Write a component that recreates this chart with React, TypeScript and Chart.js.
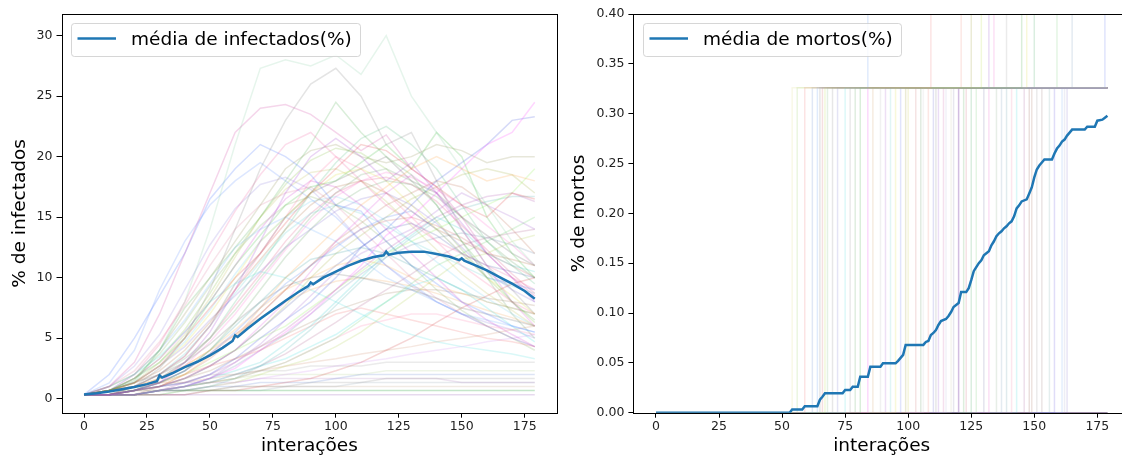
import React, { useEffect, useRef } from 'react';
import { Chart, registerables } from 'chart.js';

Chart.register(...registerables);

// ---------------- data ----------------
const lastIteration = 179;
const xTickValues = [0, 25, 50, 75, 100, 125, 150, 175];
const infectedYTicks = [0, 5, 10, 15, 20, 25, 30];
const deathYTicks = [0, 0.05, 0.1, 0.15, 0.2, 0.25, 0.3, 0.35, 0.4];

const infectedLegend = 'média de infectados(%)';
const deathLegend = 'média de mortos(%)';
const xTitle = 'interações';
const infectedYTitle = '% de infectados';
const deathYTitle = '% de mortos';

// iterations at which the individual simulation runs were read
const runIterations = [0, 10, 20, 30, 40, 50, 60, 70, 80, 90, 100, 110, 120, 130, 140, 150, 160, 170, 179];

const infectedRuns: number[][] = [
  [0.33, 0.67, 1.3, 4, 8, 14, 21, 27.3, 28, 27.5, 28.4, 26.8, 30, 25, 22, 19, 16, 13, 11],
  [0.33, 1, 3, 7, 12, 17, 22, 24, 24.3, 23.5, 22, 20.5, 21.8, 19, 17.5, 15, 12, 10, 8.5],
  [0.33, 0.33, 1, 2.5, 5, 9, 14, 19, 23, 26, 27.3, 25, 21, 22, 18, 14, 11, 9, 7],
  [0.33, 2, 5, 8.5, 12, 16.5, 19, 21, 20, 18.5, 16, 15.5, 13, 11, 9.5, 8, 7, 6, 5.5],
  [0.33, 0.67, 1.5, 4, 7.5, 10, 12.5, 15, 18, 21, 24.5, 22, 20, 18.5, 16, 13, 10.5, 8, 6.5],
  [0.33, 0.33, 0.67, 1.3, 3, 5.5, 9, 13, 17, 20, 21.5, 20, 18, 19.5, 17, 14.5, 12, 10, 8],
  [0.33, 0.67, 1.3, 2.7, 5, 7.5, 10, 12, 14.5, 17, 19, 21, 20.5, 19, 17.5, 16, 15, 17, 16.5],
  [0.33, 0.33, 0.33, 0.67, 1, 1.7, 2.5, 4, 5.5, 7, 9, 11, 13.5, 15, 17, 19, 21, 22, 24.5],
  [0.33, 0.33, 0.67, 1, 1.3, 2, 3.3, 5, 6.5, 8, 10, 12.5, 14, 16, 18, 19.5, 21, 23, 23.3],
  [0.33, 0.33, 0.67, 1, 2, 3.5, 5, 7.5, 10, 12, 14, 16, 17.5, 19, 20, 19, 18, 18.5, 18],
  [0.33, 1, 2, 4, 7, 10, 13, 16, 19, 20.5, 21, 20, 19.5, 20, 21, 20.5, 19.5, 20, 20],
  [0.33, 0.33, 0.33, 0.67, 1, 1.67, 2.3, 3, 4.5, 6, 8, 10, 12, 13.5, 15, 14, 12, 11, 10.5],
  [0.33, 0.67, 1.3, 2.7, 4.5, 7, 10, 13, 15, 17, 18.5, 19, 18, 16, 14, 12, 10, 8.5, 7],
  [0.33, 0.67, 1.67, 3, 5, 8, 11, 13.5, 16, 17.5, 18, 19.5, 21, 19, 22, 20, 15, 12, 10],
  [0.33, 0.33, 1, 2, 3.5, 6, 9, 12, 15, 18, 20, 19, 17, 15, 13, 11, 9.5, 8, 7],
  [0.33, 0.33, 0.33, 0.67, 0.67, 0.67, 1, 1, 1, 1.33, 1.33, 1.33, 1.67, 1.67, 1.67, 1.67, 1.67, 1.67, 1.67],
  [0.33, 0.67, 0.67, 0.67, 0.67, 0.67, 0.67, 0.67, 0.67, 0.67, 0.67, 0.67, 0.67, 0.67, 0.67, 0.67, 0.67, 0.67, 0.67],
  [0.33, 0.33, 0.33, 0.33, 0.33, 0.33, 0.33, 0.33, 0.33, 0.33, 0.33, 0.33, 0.33, 0.33, 0.33, 0.33, 0.33, 0.33, 0.33],
  [0.33, 0.33, 0.67, 1, 1.33, 2, 2, 2.3, 2.3, 2.7, 2.7, 2.7, 3, 3, 3, 3, 3, 3, 3],
  [0.33, 0.67, 1, 1.3, 2, 2.7, 3.3, 4, 5, 6, 7, 7.5, 7, 6.5, 6, 5.5, 5, 4.7, 4.3],
  [0.33, 0.33, 0.67, 1.33, 2.3, 3.7, 5.5, 7.5, 9.5, 11, 12.5, 14, 15, 15.5, 14, 12, 10, 9.5, 9],
  [0.33, 0.33, 0.67, 1, 1.7, 2.7, 4, 6, 8, 10.5, 13, 15, 17, 18.5, 17, 14, 11, 8, 6],
  [0.33, 1, 2, 3.5, 5.5, 8, 9.5, 10.5, 10, 9, 8, 7, 6, 5.3, 4.7, 4.3, 4, 3.7, 3.3],
  [0.33, 0.33, 0.33, 0.67, 1, 1.33, 1.67, 2.3, 3, 4, 5, 6.5, 8, 9.5, 11, 12, 13, 14, 15],
  [0.33, 0.67, 1.3, 2.3, 4, 6.3, 9, 11.5, 14, 16, 17.5, 18, 17, 15.5, 14, 13, 12, 11.5, 11],
  [0.33, 0.33, 1, 2, 3.5, 6, 9.5, 12, 15, 17, 18, 19, 20, 18, 17, 15, 13.5, 12, 11],
  [0.33, 0.67, 2, 4, 6.5, 9.5, 12.5, 14, 15, 14, 13, 11.5, 10, 9, 8, 7, 6.5, 6, 5.5],
  [0.33, 0.33, 0.33, 0.33, 0.67, 1, 1.33, 2, 2.7, 3.3, 4.3, 5.5, 7, 8.5, 10, 11.5, 12, 13, 13.5],
  [0.33, 0.33, 0.67, 0.67, 1, 1.33, 1.67, 2.3, 3, 4, 5, 6, 6.5, 7, 7, 6.5, 6, 5.7, 5.3],
  [0.33, 0.33, 0.33, 0.67, 1, 1.67, 3, 4.5, 6.5, 8.5, 10.5, 12, 13, 14, 15.5, 17, 16, 15, 14],
  [0.33, 0.67, 1, 1.67, 2.7, 4, 5.7, 7.5, 9, 10, 11, 11.5, 11, 10, 9.3, 8.7, 8, 7.5, 7],
  [0.33, 0.33, 0.67, 1.3, 2.3, 4, 6, 8, 10, 11.5, 12, 12.5, 12, 11, 10, 9, 8, 7.5, 7],
  [0.33, 0.33, 0.33, 0.33, 0.33, 0.67, 0.67, 1, 1.33, 1.67, 2.3, 3, 4, 5, 6.3, 7.5, 8.5, 9.5, 10],
  [0.33, 0.33, 0.33, 0.67, 0.67, 1, 1, 1.33, 1.33, 1.33, 1.67, 2, 2, 2, 2, 2, 2, 2, 2],
  [0.33, 0.67, 1.33, 2, 3, 4.5, 6.3, 8, 9.3, 10, 10.3, 10, 9.5, 9, 8.3, 7.5, 7, 6.5, 6],
  [0.33, 0.33, 0.67, 1.33, 2, 3, 4, 5, 6, 7.5, 9, 10.5, 12, 13, 14, 15, 16, 17, 19],
  [0.33, 0.67, 1.67, 3.3, 5.5, 8, 11, 14, 16.5, 18, 17.5, 16, 14, 12, 10, 8, 6.5, 5.3, 4.3],
  [0.33, 0.33, 0.33, 0.67, 0.67, 0.67, 1, 1, 1, 1, 1, 1, 1, 1, 1, 1, 1, 1, 1],
  [0.33, 0.33, 0.67, 1, 1.67, 2.7, 4, 5.7, 7.5, 9.3, 11, 12.5, 14, 14.5, 13.5, 12, 11, 10.5, 10],
  [0.33, 0.67, 1, 2, 3.3, 5, 7.3, 10, 12.5, 15, 17, 18.5, 19, 18, 16, 13, 10, 7, 5],
  [0.33, 0.33, 0.33, 0.67, 0.67, 0.67, 0.67, 0.67, 0.67, 0.67, 0.67, 0.67, 0.67, 0.67, 0.67, 0.67, 0.67, 0.67, 0.67],
  [0.33, 0.33, 0.67, 1, 1.33, 1.33, 1.33, 1.67, 1.67, 1.67, 1.67, 1.67, 1.67, 1.67, 1.67, 1.33, 1.33, 1.33, 1.33],
  [0.33, 0.67, 1, 1.33, 1.33, 1.67, 2, 2.33, 2.67, 3, 3.3, 3.7, 4, 4.3, 4.7, 5, 5.3, 5.7, 6],
  [0.33, 0.33, 0.33, 0.67, 1, 1.33, 2, 2.7, 3.3, 4.3, 5.3, 6.7, 8, 9.3, 10, 9, 7.5, 6, 4.7],
  [0.33, 1.3, 4, 9, 13, 16, 18, 19.5, 18, 16.5, 15, 13, 11, 9.5, 8, 7, 6, 5, 4.3],
  [0.33, 0.67, 2, 4.5, 8, 12, 15.5, 18.5, 21, 22, 20, 18, 16, 14.5, 13, 12, 11, 10, 9],
  [0.33, 0.33, 0.67, 1.67, 3, 5, 8, 11, 14, 17, 19.5, 21.5, 22.5, 21, 19, 16, 13, 11, 9.5],
  [0.33, 0.33, 0.33, 1, 2, 3.3, 5, 7, 9, 11, 13, 14.5, 16, 17, 18, 17.5, 16, 14, 12],
  [0.33, 0.67, 1.33, 2.7, 4.3, 6.5, 8.5, 10.5, 12.5, 14, 15.5, 16.5, 17, 16, 14.5, 12.5, 10.5, 9, 8],
  [0.33, 0.33, 0.67, 1, 1.67, 2.7, 4, 5.7, 7.7, 10, 12, 13.5, 15, 16.5, 17.5, 18.5, 19, 18.5, 17],
  [0.33, 1, 2.3, 4.7, 7.7, 11, 14, 16, 17, 17.5, 16, 14, 12, 10, 8.3, 7, 6, 5, 4.3],
  [0.33, 0.33, 1, 2, 3.7, 6, 8.7, 11.3, 13.7, 15.3, 16, 15.3, 14.3, 13, 12, 11, 10, 9.3, 8.7],
  [0.33, 0.33, 0.33, 0.67, 1.33, 2, 3, 4.3, 5.7, 7.3, 9, 10.7, 12.3, 13.7, 15, 16, 16.7, 17, 16.3],
  [0.33, 0.67, 1.67, 3.7, 6.3, 9.3, 12, 14.3, 16, 16.7, 16, 14.7, 13, 11, 9, 7.3, 6, 5, 4],
  [0.33, 0.33, 0.67, 1.33, 2.3, 3.7, 5.3, 7, 9, 11, 12.7, 14, 14.7, 15, 14.3, 13.3, 12, 11, 10],
  [0.33, 0.33, 0.33, 0.67, 1, 1.67, 2.7, 4, 5.3, 7, 8.7, 10.3, 11.7, 12.7, 13.3, 13.7, 13.3, 12.7, 12],
  [0.33, 0.67, 1.33, 3, 5.3, 8.3, 11.7, 15, 17.3, 18.7, 19, 18, 16.3, 14.3, 12.3, 10.3, 8.7, 7.3, 6],
  [0.33, 0.33, 0.67, 1.33, 2.7, 4.7, 7, 9.7, 12.3, 14.7, 16.7, 18, 18.7, 18.3, 17.3, 16, 14.3, 12.7, 11],
  [0.33, 0.33, 0.33, 0.33, 0.67, 1, 1.67, 2.7, 4, 5.7, 7.7, 9.7, 11.7, 13.3, 14.7, 15.7, 16.3, 16.7, 16.7],
  [0.33, 1, 2.7, 5.3, 9, 12.7, 15.7, 17.7, 18.3, 17.3, 15.3, 13, 11, 9.3, 8, 7, 6.3, 5.7, 5],
  [0.33, 0.67, 1, 1.67, 2.7, 4, 5.3, 6.7, 8, 9, 9.7, 10, 9.7, 9.3, 8.7, 8, 7.3, 6.7, 6],
  [0.33, 0.33, 0.67, 1.33, 2.3, 4, 6.3, 9, 11.7, 14, 16, 17.3, 18, 17.7, 16.7, 15, 13, 11.3, 10],
  [0.33, 0.33, 0.33, 0.67, 1, 1.33, 2, 2.7, 3.7, 5, 6.3, 7.7, 9, 10.3, 11.7, 12.7, 13.3, 13.7, 14],
  [0.33, 0.67, 1.33, 2.7, 4.7, 7.3, 10.3, 13, 15, 16.3, 16.7, 16, 14.7, 13, 11.3, 9.7, 8.3, 7, 6],
  [0.33, 0.33, 0.67, 1, 1.67, 2.3, 3.3, 4.3, 5.3, 6.3, 7.3, 8, 8.7, 9, 9, 8.7, 8.3, 8, 7.7],
  [0.33, 0.33, 0.33, 0.67, 0.67, 1, 1.33, 1.67, 2, 2.3, 2.7, 3, 3.3, 3.7, 4, 4.3, 4.7, 5, 5.3],
  [0.33, 0.67, 1.67, 3.3, 5.7, 8.7, 12, 15, 17.7, 19.7, 20.7, 20.3, 19, 17, 14.7, 12.3, 10, 8, 6.3],
  [0.33, 0.33, 0.67, 1.67, 3, 5, 7.7, 10.3, 13, 15.3, 17, 18, 18.3, 17.7, 16.3, 14.3, 12.3, 10.3, 8.7],
  [0.33, 0.33, 0.33, 0.33, 0.33, 0.67, 0.67, 0.67, 1, 1, 1, 1.33, 1.33, 1.33, 1.33, 1.33, 1.33, 1.33, 1.33],
  [0.33, 0.33, 0.33, 0.67, 1, 1.33, 1.67, 2, 2, 2, 2, 2, 2.3, 2.3, 2.3, 2.3, 2.3, 2.3, 2.3],
];

const infectedRunColors = [
  '#33aa66', '#cc3399', '#777777', '#3366ff', '#44aa44', '#9933cc', '#dd3333', '#ff33ff', '#3344dd', '#ff9933',
  '#888844', '#33cccc', '#dddd33', '#33bb33', '#ff6699', '#888888', '#55bb55', '#8844aa', '#999999', '#ee6666',
  '#4477ee', '#dd44dd', '#44dddd', '#66cc66', '#aa6633', '#555555', '#66aaff', '#aacc44', '#ff77aa', '#9955cc',
  '#ffaa44', '#339999', '#cc3333', '#5577cc', '#666666', '#88ee44', '#cc33cc', '#bb9977', '#4455aa', '#669966',
  '#66bb88', '#aa77bb', '#cc8866', '#33dddd', '#5588ff', '#ee5599', '#44bb77', '#bb6644', '#7766cc', '#99aa33',
  '#dd7799', '#55cccc', '#aa44aa', '#77aa55', '#cc5555', '#6688aa', '#bbbb44', '#ff66cc', '#44aaaa', '#8877dd',
  '#ee9944', '#559955', '#aa5588', '#66ccee', '#997755', '#cc88ee', '#77bb33', '#dd4477', '#8899aa', '#aacc88',
];

const meanInfectedIter = [0, 5, 10, 15, 20, 25, 29, 30, 31, 35, 40, 45, 50, 55, 59, 60, 61, 65, 70, 75, 80, 85, 89, 90, 91, 95, 100, 105, 110, 115, 119, 120, 121, 125, 130, 135, 140, 145, 149, 150, 151, 155, 160, 165, 170, 175, 179];
const meanInfectedValue = [0.35, 0.45, 0.6, 0.78, 0.96, 1.2, 1.45, 1.93, 1.74, 2.1, 2.6, 3.05, 3.58, 4.2, 4.77, 5.24, 5.1, 5.8, 6.6, 7.35, 8.1, 8.8, 9.3, 9.6, 9.45, 10.0, 10.5, 11.0, 11.4, 11.7, 11.85, 12.15, 11.9, 12.05, 12.15, 12.15, 11.95, 11.75, 11.45, 11.6, 11.4, 11.05, 10.6, 10.05, 9.5, 8.9, 8.25];

// death runs: level reached (% of population) and iteration of each new death
const deathLevels = [0, 0.326, 0.651];
const deathFirstStep: (number | null)[] = [
  54, 59, 64, 65, 67, 75, 77, 81, 84, 89, 95, 97, 99, 106, 108, 111, 112, 115, 117, 120,
  120, 125, 127, 132, 137, 141, 143, 148, 149, 151, 158, 161, 162, 56, 62, 66, 68, 70, 72, 79,
  86, 91, 93, 100, 103, 105, 110, 114, 118, 122, 123, 130, 135, 139, 146, 153, 156, 163,
  null, null, null, null, null, null, null, null, null, null,
];
const deathSecondStep: (number | null)[] = [
  null, 109, 84, null, 129, null, 139, 145, null, null, 147, 178, 125, null, 121, null, 132, null, null, null,
  null, 150, 159, 134, 165, null, null, null, null, null, null, null, null, null, null, null, null, null, null, null,
  null, null, null, null, null, null, null, null, null, null, null, null, null, null, null, null, null, null,
  null, null, null, null, null, null, null, null, null, null,
];
const deathRunColors = [
  '#dddd88', '#ee7777', '#6699ee', '#888888', '#bbdd44', '#55dddd', '#999999', '#44aa44', '#ee44ee', '#bbbbbb',
  '#dddd44', '#6677ee', '#999933', '#cccccc', '#ee8877', '#888888', '#9955cc', '#bbbbdd', '#ccccaa', '#8844aa',
  '#7744aa', '#44aa66', '#77cc77', '#ee66cc', '#7799bb', '#ee88aa', '#44dddd', '#996655', '#aa7766', '#999999',
  '#6655dd', '#77aaee', '#aaaacc', '#99cc66', '#6688cc', '#cc6666', '#77bb77', '#888888', '#7777cc', '#66aa66',
  '#cc9966', '#aa66cc', '#66cccc', '#cccc55', '#cc7777', '#669966', '#6666cc', '#cc66aa', '#8888aa', '#55aa55',
  '#cc6677', '#7777aa', '#88aa88', '#6699aa', '#aa6699', '#997777', '#77aaaa', '#8877cc',
  '#777777', '#8866aa', '#996699', '#666688', '#aa88aa', '#888888', '#775588', '#998877', '#6677aa', '#887799',
];

const meanDeathIter = [0, 53, 54, 58, 59, 64, 65, 66, 67, 74, 75, 77, 78, 80, 81, 84, 85, 89, 90, 95, 96, 97, 98, 99, 106, 107, 108, 109, 110, 111, 112, 113, 115, 116, 117, 118, 119, 120, 121, 123, 124, 125, 126, 127, 128, 129, 130, 131, 132, 133, 134, 135, 136, 137, 138, 139, 140, 141, 142, 143, 144, 145, 147, 148, 149, 150, 151, 152, 153, 154, 157, 158, 159, 160, 161, 162, 163, 164, 165, 170, 171, 174, 175, 177, 178, 179];
const meanDeathValue = [0, 0, 0.0033, 0.0033, 0.0065, 0.0065, 0.013, 0.016, 0.0195, 0.0195, 0.0228, 0.0228, 0.026, 0.026, 0.036, 0.036, 0.046, 0.046, 0.0495, 0.0495, 0.052, 0.055, 0.058, 0.068, 0.068, 0.071, 0.072, 0.078, 0.08, 0.083, 0.088, 0.092, 0.094, 0.097, 0.101, 0.106, 0.108, 0.11, 0.121, 0.121, 0.125, 0.133, 0.142, 0.146, 0.15, 0.153, 0.158, 0.16, 0.162, 0.168, 0.172, 0.177, 0.18, 0.182, 0.185, 0.187, 0.19, 0.192, 0.197, 0.205, 0.208, 0.212, 0.214, 0.22, 0.226, 0.236, 0.244, 0.248, 0.251, 0.254, 0.254, 0.26, 0.265, 0.268, 0.272, 0.274, 0.278, 0.281, 0.284, 0.284, 0.287, 0.287, 0.293, 0.294, 0.296, 0.298];

// ---------------- helpers ----------------
const FONT = "'DejaVu Sans', 'Liberation Sans', sans-serif";
const MEAN_COLOR = '#1f77b4';

function hexToRgba(hex: string, a: number) {
  const n = parseInt(hex.slice(1), 16);
  return `rgba(${(n >> 16) & 255},${(n >> 8) & 255},${n & 255},${a})`;
}

function zipPoints(xs: number[], ys: number[]) {
  return xs.map((x, i) => ({ x, y: ys[i] }));
}

function deathRunPoints(first: number | null, second: number | null) {
  const pts = [{ x: 0, y: deathLevels[0] }];
  if (first === null) {
    pts.push({ x: lastIteration, y: deathLevels[0] });
    return pts;
  }
  pts.push({ x: first, y: deathLevels[0] }, { x: first, y: deathLevels[1] });
  if (second === null) {
    pts.push({ x: lastIteration, y: deathLevels[1] });
    return pts;
  }
  pts.push({ x: second, y: deathLevels[1] }, { x: second, y: deathLevels[2] }, { x: lastIteration, y: deathLevels[2] });
  return pts;
}

const framePlugin = {
  id: 'frame',
  afterDatasetsDraw(chart: any) {
    const { ctx, chartArea } = chart;
    const l = Math.round(chartArea.left) + 0.5;
    const t = Math.round(chartArea.top) + 0.5;
    const r = Math.round(chartArea.right) + 0.5;
    const b = Math.round(chartArea.bottom) + 0.5;
    ctx.save();
    ctx.strokeStyle = '#000';
    ctx.lineWidth = 1;
    ctx.strokeRect(l, t, r - l, b - t);
    ctx.restore();
  },
};

function makeLegendPlugin(label: string) {
  return {
    id: 'boxLegend',
    afterDraw(chart: any) {
      const { ctx, chartArea } = chart;
      ctx.save();
      ctx.font = `18.5px ${FONT}`;
      const tw = ctx.measureText(label).width;
      const x = Math.round(chartArea.left + 9.6) + 0.5;
      const y = Math.round(chartArea.top + 9.3) + 0.5;
      const w = Math.round(59.7 + tw + 8.5);
      const h = 33;
      ctx.beginPath();
      ctx.roundRect(x, y, w, h, 3);
      ctx.fillStyle = 'rgba(255,255,255,0.8)';
      ctx.fill();
      ctx.strokeStyle = 'rgba(204,204,204,0.8)';
      ctx.lineWidth = 1;
      ctx.stroke();
      ctx.beginPath();
      ctx.moveTo(x + 6, y + 15);
      ctx.lineTo(x + 44.5, y + 15);
      ctx.strokeStyle = MEAN_COLOR;
      ctx.lineWidth = 2.5;
      ctx.stroke();
      ctx.fillStyle = '#000';
      ctx.textAlign = 'left';
      ctx.textBaseline = 'middle';
      ctx.fillText(label, x + 59.5, y + 16.5);
      ctx.restore();
    },
  };
}

interface PanelCfg {
  xMin: number;
  xMax: number;
  yMin: number;
  yMax: number;
  yTicks: number[];
  yFmt: (v: number) => string;
  yTitle: string;
  yAxisWidth: number;
  yTitlePad: number;
  padRight: number;
}

function buildOptions(p: PanelCfg): any {
  const tickFont = { family: FONT, size: 12.5 };
  const titleFont = { family: FONT, size: 18.5, lineHeight: 1.135 };
  return {
    animation: false,
    responsive: false,
    devicePixelRatio: 1,
    events: [],
    layout: { padding: { left: 0, top: 14, right: p.padRight, bottom: 0 } },
    plugins: { legend: { display: false }, tooltip: { enabled: false } },
    elements: { point: { radius: 0 }, line: { tension: 0 } },
    scales: {
      x: {
        type: 'linear',
        min: p.xMin,
        max: p.xMax,
        afterBuildTicks: (s: any) => {
          s.ticks = xTickValues.map((v) => ({ value: v }));
        },
        afterFit: (s: any) => {
          s.height = 44.3;
        },
        border: { display: false },
        grid: { drawOnChartArea: false, drawTicks: true, tickLength: 5, color: '#000', lineWidth: 1 },
        ticks: { color: '#222', font: tickFont, padding: 2, maxRotation: 0, autoSkip: false, callback: (v: number) => String(v) },
        title: { display: true, text: xTitle, color: '#000', font: titleFont, padding: { top: 0, bottom: 0 } },
      },
      y: {
        type: 'linear',
        min: p.yMin,
        max: p.yMax,
        afterBuildTicks: (s: any) => {
          s.ticks = p.yTicks.map((v) => ({ value: v }));
        },
        afterFit: (s: any) => {
          s.width = p.yAxisWidth;
        },
        border: { display: false },
        grid: { drawOnChartArea: false, drawTicks: true, tickLength: 5, color: '#000', lineWidth: 1 },
        ticks: { color: '#222', font: tickFont, padding: 4, autoSkip: false, callback: (v: number) => p.yFmt(v) },
        title: { display: true, text: p.yTitle, color: '#000', font: titleFont, padding: { top: p.yTitlePad, bottom: 0 } },
      },
    },
  };
}

function infectedDatasets() {
  const mean = {
    data: zipPoints(meanInfectedIter, meanInfectedValue),
    borderColor: MEAN_COLOR,
    borderWidth: 2.5,
    clip: 0,
  };
  const runs = infectedRuns.map((vals, i) => ({
    data: zipPoints(runIterations, vals),
    borderColor: hexToRgba(infectedRunColors[i % infectedRunColors.length], i === 0 ? 0.12 : 0.2),
    borderWidth: 1.5,
    clip: 0,
  }));
  return [mean, ...runs];
}

function deathDatasets() {
  const mean = {
    data: zipPoints(meanDeathIter, meanDeathValue),
    borderColor: MEAN_COLOR,
    borderWidth: 2.5,
    clip: 0,
  };
  const runs = deathFirstStep.map((first, i) => ({
    data: deathRunPoints(first, deathSecondStep[i]),
    borderColor: hexToRgba(deathRunColors[i % deathRunColors.length], 0.2),
    borderWidth: 1.5,
    clip: 0,
  }));
  return [mean, ...runs];
}

function Panel(props: { width: number; left: number; kind: 'inf' | 'death' }) {
  const ref = useRef<HTMLCanvasElement | null>(null);
  useEffect(() => {
    if (!ref.current) return;
    const isInf = props.kind === 'inf';
    const options = isInf
      ? buildOptions({
          xMin: -8.95,
          xMax: 187.95,
          yMin: -1.16,
          yMax: 31.79,
          yTicks: infectedYTicks,
          yFmt: (v) => String(v),
          yTitle: infectedYTitle,
          yAxisWidth: 61.5,
          yTitlePad: 9.8,
          padRight: 3.7,
        })
      : buildOptions({
          xMin: -8.95,
          xMax: 187.95,
          yMin: 0,
          yMax: 0.4,
          yTicks: deathYTicks,
          yFmt: (v) => v.toFixed(2),
          yTitle: deathYTitle,
          yAxisWidth: 72.4,
          yTitlePad: 8.1,
          padRight: 11,
        });
    const chart = new Chart(ref.current, {
      type: 'line',
      data: { datasets: (isInf ? infectedDatasets() : deathDatasets()) as any },
      options,
      plugins: [framePlugin, makeLegendPlugin(isInf ? infectedLegend : deathLegend)],
    });
    return () => chart.destroy();
  }, [props.kind]);
  return (
    <canvas
      ref={ref}
      width={props.width}
      height={457}
      style={{ position: 'absolute', left: props.left, top: 0, width: props.width, height: 457 }}
    />
  );
}

export default function App() {
  return (
    <div
      style={{
        position: 'fixed',
        left: 0,
        top: 0,
        width: 1122,
        height: 457,
        overflow: 'hidden',
        background: '#fff',
      }}
    >
      <Panel width={561} left={0} kind="inf" />
      <Panel width={580} left={561} kind="death" />
    </div>
  );
}
